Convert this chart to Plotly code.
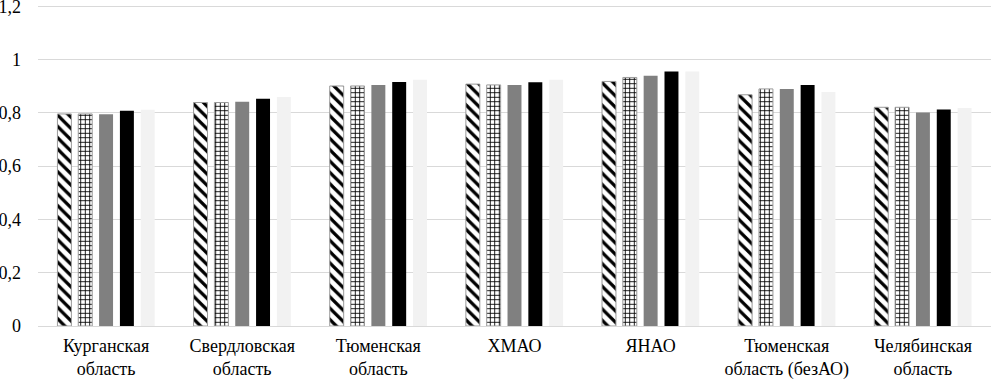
import plotly.graph_objects as go

categories = ["Курганская<br>область", "Свердловская<br>область", "Тюменская<br>область",
              "ХМАО", "ЯНАО", "Тюменская<br>область (безАО)", "Челябинская<br>область"]

s1 = [0.796, 0.839, 0.901, 0.908, 0.918, 0.868, 0.821]
s2 = [0.796, 0.839, 0.901, 0.905, 0.933, 0.890, 0.821]
s3 = [0.795, 0.842, 0.905, 0.905, 0.939, 0.890, 0.801]
s4 = [0.808, 0.853, 0.916, 0.915, 0.955, 0.905, 0.813]
s5 = [0.812, 0.860, 0.924, 0.924, 0.955, 0.878, 0.818]

y_ticks = [0, 0.2, 0.4, 0.6, 0.8, 1.0, 1.2]

FONT = "Liberation Serif, Times New Roman, serif"

fig = go.Figure()
fig.add_bar(x=categories, y=s1, name="s1",
            marker=dict(color="white", line=dict(color="#9a9a9a", width=1),
                        pattern=dict(shape="\\", fgcolor="black", bgcolor="white",
                                     size=8, solidity=0.4, fillmode="replace")))
fig.add_bar(x=categories, y=s2, name="s2",
            marker=dict(color="white", line=dict(color="#9a9a9a", width=1),
                        pattern=dict(shape="+", fgcolor="black", bgcolor="white",
                                     size=4.5, solidity=0.35, fillmode="replace")))
fig.add_bar(x=categories, y=s3, name="s3", marker=dict(color="#808080", line=dict(width=0)))
fig.add_bar(x=categories, y=s4, name="s4", marker=dict(color="#000000", line=dict(width=0)))
fig.add_bar(x=categories, y=s5, name="s5", marker=dict(color="#f2f2f2", line=dict(width=0)))

fig.update_layout(
    width=991, height=382,
    margin=dict(l=38, r=0, t=5, b=56, autoexpand=False),
    paper_bgcolor="white", plot_bgcolor="white",
    barmode="group", bargap=0.235, bargroupgap=0.33,
    showlegend=False,
    separators=", ",
    font=dict(family=FONT, size=18, color="black"),
)
fig.update_xaxes(showgrid=False, showline=True, linecolor="#d9d9d9", linewidth=1,
                 ticks="", ticklabelstandoff=3,
                 tickfont=dict(family=FONT, size=18, color="black"))
fig.update_yaxes(range=[0, 1.205], tickvals=y_ticks, showgrid=True, gridcolor="#d9d9d9",
                 gridwidth=1, zeroline=False, showline=False, ticks="",
                 ticklabeloverflow="allow",
                 ticklabelstandoff=16, tickfont=dict(family=FONT, size=18, color="black"))

fig.write_html("out.html", config={"displayModeBar": False},
               post_script="document.body.style.margin='0';")
